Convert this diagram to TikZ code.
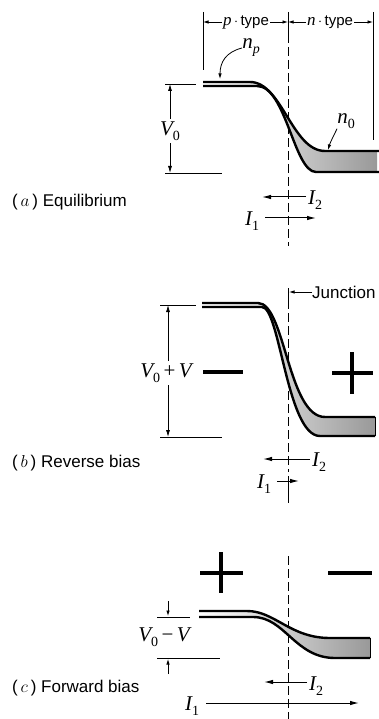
\documentclass[tikz,border=0pt]{standalone}
\usepackage{fontspec}
\setmainfont{Liberation Sans}
\newfontfamily\serfont{Liberation Serif}
\newcommand{\mlab}[2]{{\serfont\itshape #1}\raisebox{-0.45ex}{\fontsize{14}{14}\selectfont\serfont #2}}
\newcommand{\mvar}[1]{{\serfont\itshape #1}}
\usetikzlibrary{arrows.meta}
\tikzset{
  thinline/.style={line width=0.8pt},
  junc/.style={line width=0.9pt, dash pattern=on 9pt off 4pt},
  curr/.style={line width=1pt,-{Latex[length=9pt,width=4.5pt]}},
  dimarr/.style={line width=0.8pt,{Latex[length=7pt,width=4pt]}-{Latex[length=7pt,width=4pt]}},
  smallarr/.style={line width=0.8pt,-{Latex[length=5.5pt,width=3.5pt]}},
  bandline/.style={line width=2.4pt, line join=round},
  bandfill/.style={left color=white, right color=gray!80},
  signline/.style={line width=3.5pt},
  mathlab/.style={font=\fontsize{21}{23}\selectfont, inner sep=0pt},
  toplab/.style={font=\fontsize{15}{17}\selectfont, inner sep=1pt},
  titlelab/.style={font=\fontsize{17}{19}\selectfont, anchor=west, inner sep=0pt},
}
\begin{document}
\begin{tikzpicture}[x=1pt,y=-1pt]
\useasboundingbox (0,0) rectangle (379,719);
\clip (0,0) rectangle (379,719);

% ---------------- panel (a) ----------------
\coordinate (aLt) at (203,12); \coordinate (aLb) at (203,70);
\coordinate (aRt) at (373,12); \coordinate (aRb) at (373,140);
\draw[thinline] (aLt) -- (aLb);
\draw[thinline] (aRt) -- (aRb);
\node[toplab] (ptype) at (246,22) {\mvar{\fontsize{17}{17}\selectfont p}\,$\cdot$\,type};
\node[toplab] (ntype) at (330,22) {\mvar{\fontsize{17}{17}\selectfont n}\,$\cdot$\,type};
\coordinate (dimL) at (203,22); \coordinate (dimJ) at (288,22); \coordinate (dimR) at (373,22);
\draw[smallarr] (ptype.west) -- (dimL);
\draw[smallarr] (ptype.east) -- (dimJ);
\draw[smallarr] (ntype.west) -- (dimJ);
\draw[smallarr] (ntype.east) -- (dimR);
\coordinate (jaT) at (288,12); \coordinate (jaM) at (288,34); \coordinate (jaB) at (288,246);
\draw[thinline] (jaT) -- (jaM);
\draw[junc] (jaM) -- (jaB);

\shade[bandfill] (203,82) -- (250,82) .. controls (282,82) and (292,151) .. (325,151) -- (377,151)
  -- (377,172) -- (316,172) .. controls (294,172) and (286,86) .. (257,86) -- (203,86) -- cycle;
\draw[bandline] (203,82) -- (250,82) .. controls (282,82) and (292,151) .. (325,151) -- (379,151);
\draw[bandline] (203,86) -- (257,86) .. controls (286,86) and (294,172) .. (316,172) -- (379,172);

\coordinate (v0t) at (170,84); \coordinate (v0b) at (170,173);
\draw[thinline] (165,84) -- (196,84);
\draw[thinline] (165,173) -- (222,173);
\draw[dimarr] (v0t) -- (v0b);
\node[mathlab, fill=white, inner sep=3pt] (v0) at (170,131) {\mlab{V}{0}};

\node[mathlab] (np) at (251,48) {\mlab{n}{\itshape p}};
\draw[smallarr] (np.west) .. controls (226,52) and (220,62) .. (220,79);
\node[mathlab] (n0) at (346,121) {\mlab{n}{0}};
\draw[smallarr] (n0.south west) .. controls (333,137) and (330,143) .. (328,150);

\coordinate (a2s) at (306,197); \coordinate (a2e) at (262,197);
\draw[curr] (a2s) -- (a2e);
\node[mathlab, anchor=west] (ai2) at (308,200) {\mlab{I}{2}};
\node[mathlab] (ai1) at (252,221) {\mlab{I}{1}};
\coordinate (a1e) at (316,218);
\draw[curr] (265,218) -- (a1e);
\node[titlelab] (ta) at (12,202) {(\,$a$\,) Equilibrium};

% ---------------- panel (b) ----------------
\coordinate (jbT) at (288,288); \coordinate (jbM) at (288,300); \coordinate (jbB) at (288,472);
\draw[thinline] (jbT) -- (jbM);
\draw[junc] (jbM) -- (jbB);
\draw[thinline] (288,476) -- (288,503);
\node[titlelab] (jl) at (312,292) {Junction};
\coordinate (jlt) at (289,292);
\draw[smallarr] (jl.west) -- (jlt);

\shade[bandfill] (202,303) -- (258,303) .. controls (285,303) and (288,417) .. (325,417) -- (375,417)
  -- (375,436) -- (320,436) .. controls (287,436) and (280,307) .. (262,307) -- (202,307) -- cycle;
\draw[bandline] (202,303) -- (258,303) .. controls (285,303) and (288,417) .. (325,417) -- (375,417);
\draw[bandline] (202,307) -- (262,307) .. controls (280,307) and (287,436) .. (320,436) -- (375,436);
\draw[thinline] (375,417) -- (375,436);

\coordinate (vbt) at (168,305); \coordinate (vbb) at (168,437);
\draw[thinline] (160,305) -- (196,305);
\draw[thinline] (160,437) -- (222,437);
\draw[dimarr] (vbt) -- (vbb);
\node[mathlab, fill=white, inner sep=3pt] (vb) at (166,373) {\mlab{V}{0}\,{\serfont +}\,\mvar{V}};

\draw[signline] (203,372) -- (243,372);
\draw[signline] (332,373) -- (373,373);
\draw[signline] (352,352) -- (352,394);

\coordinate (b2s) at (310,459); \coordinate (b2e) at (263,459);
\draw[curr] (b2s) -- (b2e);
\node[mathlab, anchor=west] (bi2) at (312,462) {\mlab{I}{2}};
\node[mathlab] (bi1) at (264,484) {\mlab{I}{1}};
\coordinate (b1e) at (299,481);
\draw[curr] (277,481) -- (b1e);
\node[titlelab] (tb) at (12,463) {(\,$b$\,) Reverse bias};

% ---------------- panel (c) ----------------
\coordinate (jcT) at (288,556); \coordinate (jcB) at (288,719);
\draw[junc] (jcT) -- (jcB);

\draw[signline] (200,573) -- (243,573);
\draw[signline] (221,552) -- (221,593);
\draw[signline] (328,573) -- (372,573);

\shade[bandfill] (199,611) -- (247,611) .. controls (275,611) and (290,638) .. (330,638) -- (370,638)
  -- (370,658) -- (335,658) .. controls (295,658) and (285,617) .. (253,617) -- (199,617) -- cycle;
\draw[bandline] (199,611) -- (247,611) .. controls (275,611) and (290,638) .. (330,638) -- (370,638);
\draw[bandline] (199,617) -- (253,617) .. controls (285,617) and (295,658) .. (335,658) -- (370,658);
\draw[thinline] (370,638) -- (370,658);

\draw[thinline] (157,617) -- (190,617);
\draw[thinline] (157,658) -- (220,658);
\coordinate (vct0) at (168,601); \coordinate (vct1) at (168,616);
\coordinate (vcb0) at (168,674); \coordinate (vcb1) at (168,659);
\draw[smallarr] (vct0) -- (vct1);
\draw[smallarr] (vcb0) -- (vcb1);
\node[mathlab] (vc) at (164,637) {\mlab{V}{0}\,{\serfont −}\,\mvar{V}};

\coordinate (c2s) at (307,682); \coordinate (c2e) at (264,682);
\draw[curr] (c2s) -- (c2e);
\node[mathlab, anchor=west] (ci2) at (309,686) {\mlab{I}{2}};
\node[mathlab] (ci1) at (192,706) {\mlab{I}{1}};
\coordinate (c1e) at (359,703);
\draw[curr] (206,703) -- (c1e);
\node[titlelab] (tc) at (12,688) {(\,$c$\,) Forward bias};
\end{tikzpicture}
\end{document}
